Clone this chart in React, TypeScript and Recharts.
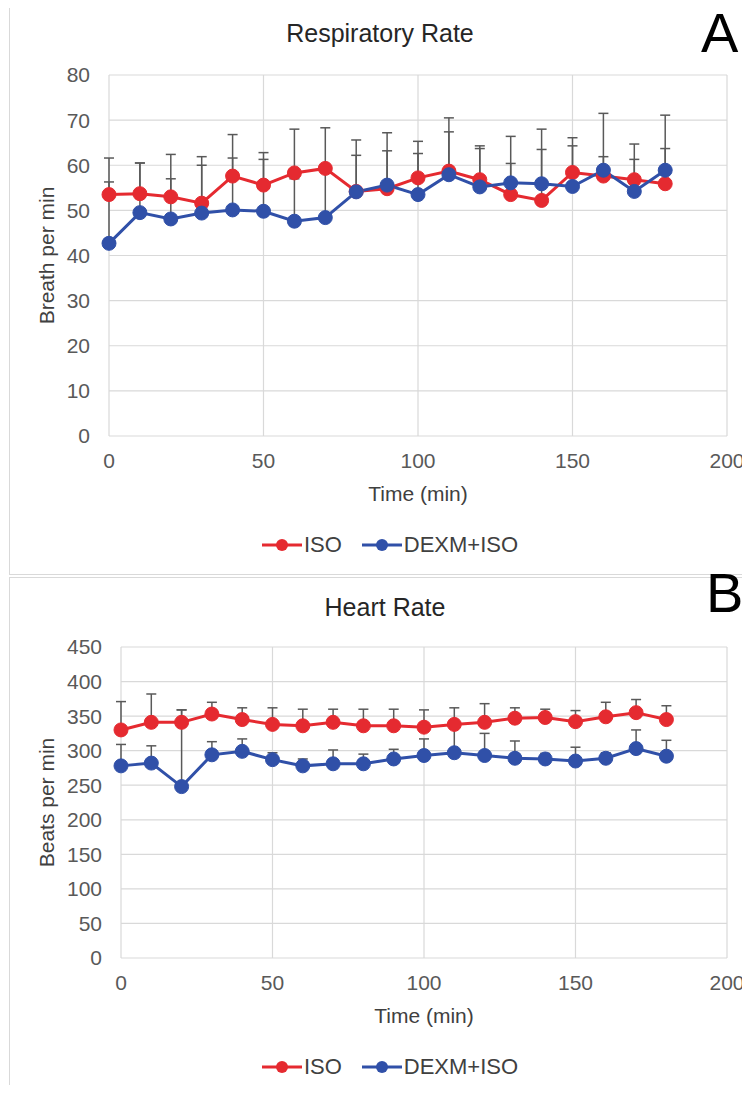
import React from 'react';
import { LineChart, Line, XAxis, YAxis, CartesianGrid, ErrorBar, Legend } from 'recharts';

// sampling times (min)
const times = [0, 10, 20, 30, 40, 50, 60, 70, 80, 90, 100, 110, 120, 130, 140, 150, 160, 170, 180];
const xTicks = [0, 50, 100, 150, 200];

// Respiratory rate (breath per min), mean and SD (upper bar only)
const isoRR = [53.5, 53.7, 53.0, 51.6, 57.6, 55.6, 58.3, 59.3, 54.2, 54.8, 57.2, 58.7, 56.8, 53.5, 52.2, 58.4, 57.6, 56.8, 55.9];
const isoRRsd = [8.1, 6.8, 9.4, 10.3, 9.2, 7.2, 9.7, 9.0, 11.4, 8.4, 8.1, 11.8, 7.5, 6.9, 11.3, 7.7, 4.3, 4.5, 7.8];
const dexmRR = [42.7, 49.5, 48.1, 49.4, 50.1, 49.8, 47.6, 48.4, 54.1, 55.6, 53.5, 57.9, 55.2, 56.1, 55.9, 55.3, 58.9, 54.2, 58.9];
const dexmRRsd = [13.6, 11.0, 8.9, 10.6, 11.5, 11.5, 9.4, 10.5, 8.1, 11.6, 9.1, 9.5, 8.5, 10.3, 12.1, 9.0, 12.6, 10.5, 12.2];
const rrTicks = [0, 10, 20, 30, 40, 50, 60, 70, 80];

// Heart rate (beats per min)
const isoHR = [330, 341, 341, 353, 345, 338, 336, 341, 336, 336, 334, 338, 341, 347, 348, 342, 349, 355, 345];
const isoHRsd = [41, 41, 18, 17, 17, 24, 24, 19, 24, 24, 25, 24, 27, 15, 12, 16, 21, 19, 20];
const dexmHR = [278, 282, 248, 294, 299, 287, 278, 281, 281, 288, 293, 297, 293, 289, 288, 285, 289, 303, 292];
const dexmHRsd = [31, 25, 111, 19, 18, 10, 10, 20, 14, 14, 24, 41, 32, 25, 8, 20, 8, 27, 23];
const hrTicks = [0, 50, 100, 150, 200, 250, 300, 350, 400, 450];

const RED = '#E52A30';
const BLUE = '#3050A8';
const GRID = '#D9D9D9';
const BAR = '#595959';
const TXT = '#595959';
const FONT = '"Liberation Sans", Arial, sans-serif';

const buildRows = (iso: number[], isoSd: number[], dexm: number[], dexmSd: number[]) =>
  times.map((t, i) => ({
    t,
    iso: iso[i],
    isoErr: [0, isoSd[i]],
    dexm: dexm[i],
    dexmErr: [0, dexmSd[i]],
  }));

const legendItems = [
  { name: 'ISO', color: RED },
  { name: 'DEXM+ISO', color: BLUE },
];

const LegendContent = () => (
  <div style={{ display: 'flex', justifyContent: 'center', alignItems: 'center', gap: 20, fontSize: 22, color: '#404040', fontFamily: FONT }}>
    {legendItems.map((s) => (
      <span key={s.name} style={{ display: 'flex', alignItems: 'center' }}>
        <svg width={40} height={16} style={{ marginRight: 2 }}>
          <line x1={0} y1={8} x2={40} y2={8} stroke={s.color} strokeWidth={3} />
          <circle cx={20} cy={8} r={6} fill={s.color} />
        </svg>
        <span>{s.name}</span>
      </span>
    ))}
  </div>
);

interface PanelProps {
  rows: any[];
  height: number;
  top: number;
  yWidth: number;
  yMax: number;
  yTicks: number[];
  yLabel: string;
  legendTop: number;
}

const Panel: React.FC<PanelProps> = ({ rows, height, top, yWidth, yMax, yTicks, yLabel, legendTop }) => (
  <div style={{ position: 'absolute', left: 0, top }}>
    <LineChart width={750} height={height} data={rows} margin={{ top: top === 0 ? 75 : 71, right: 23, bottom: 0, left: 0 }}>
      <CartesianGrid stroke={GRID} strokeWidth={1.2} />
      <XAxis
        type="number"
        dataKey="t"
        domain={[0, 200]}
        ticks={xTicks}
        axisLine={false}
        tickLine={false}
        tickMargin={11}
        height={height - (top === 0 ? 436 : 382)}
        tick={{ fill: TXT, fontSize: 21, fontFamily: FONT }}
        label={{ value: 'Time (min)', position: 'insideTop', offset: 50, fill: '#404040', fontSize: 21, fontFamily: FONT }}
      />
      <YAxis
        domain={[0, yMax]}
        ticks={yTicks}
        width={yWidth}
        axisLine={false}
        tickLine={false}
        tickMargin={13}
        tick={{ fill: TXT, fontSize: 21, fontFamily: FONT }}
        label={{ value: yLabel, angle: -90, position: 'insideLeft', offset: 47, fill: '#404040', fontSize: 21, fontFamily: FONT, style: { textAnchor: 'middle' } }}
      />
      <Legend
        layout="horizontal"
        verticalAlign="middle"
        align="center"
        content={<LegendContent />}
        wrapperStyle={{ top: legendTop, left: 30, width: 720 }}
      />
      <Line dataKey="iso" stroke={RED} strokeWidth={3} dot={{ r: 7, fill: RED, stroke: RED, strokeWidth: 1 }} isAnimationActive={false}>
        <ErrorBar dataKey="isoErr" direction="y" width={5} stroke={BAR} strokeWidth={1.5} isAnimationActive={false} />
      </Line>
      <Line dataKey="dexm" stroke={BLUE} strokeWidth={3} dot={{ r: 7, fill: BLUE, stroke: BLUE, strokeWidth: 1 }} isAnimationActive={false}>
        <ErrorBar dataKey="dexmErr" direction="y" width={5} stroke={BAR} strokeWidth={1.5} isAnimationActive={false} />
      </Line>
    </LineChart>
  </div>
);

export default function App() {
  const rrRows = buildRows(isoRR, isoRRsd, dexmRR, dexmRRsd);
  const hrRows = buildRows(isoHR, isoHRsd, dexmHR, dexmHRsd);
  return (
    <div style={{ position: 'relative', width: 750, height: 1093, margin: -8, overflow: 'hidden', background: '#fff', fontFamily: FONT }}>
      {/* panel frames */}
      <div style={{ position: 'absolute', left: 9, top: 7, width: 745, height: 566, border: `1px solid ${GRID}` }} />
      <div style={{ position: 'absolute', left: 9, top: 577, width: 745, height: 530, border: `1px solid ${GRID}` }} />

      <div style={{ position: 'absolute', left: 0, width: 760, top: 18, textAlign: 'center', fontSize: 25, lineHeight: '30px', color: '#262626' }}>Respiratory Rate</div>
      <div style={{ position: 'absolute', left: 701, top: 5, fontSize: 56, lineHeight: '56px', color: '#000' }}>A</div>

      <div style={{ position: 'absolute', left: 0, width: 770, top: 592, textAlign: 'center', fontSize: 25, lineHeight: '30px', color: '#262626' }}>Heart Rate</div>
      <div style={{ position: 'absolute', left: 706, top: 565, fontSize: 56, lineHeight: '56px', color: '#000' }}>B</div>

      <Panel rows={rrRows} height={576} top={0} yWidth={109} yMax={80} yTicks={rrTicks} yLabel="Breath per min" legendTop={532} />
      <Panel rows={hrRows} height={517} top={576} yWidth={121} yMax={450} yTicks={hrTicks} yLabel="Beats per min" legendTop={478} />
    </div>
  );
}
